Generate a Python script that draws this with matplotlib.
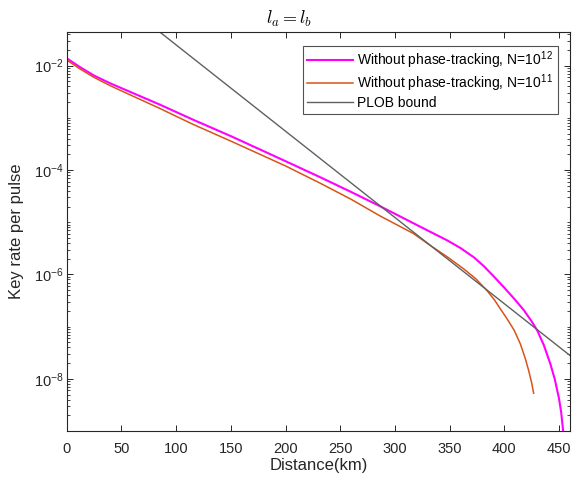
import numpy as np
import matplotlib
matplotlib.use("Agg")
import matplotlib.pyplot as plt
from matplotlib.ticker import LogLocator, LogFormatterSciNotation, NullFormatter, MultipleLocator

plt.rcParams['font.family'] = ['Liberation Sans', 'DejaVu Sans']
plt.rcParams['mathtext.fontset'] = 'cm'
plt.rcParams['axes.unicode_minus'] = False

# Data (distance in km, key rate per pulse)
dist_n12 = [0, 12, 25, 40, 55, 85, 115, 150, 200, 232, 260, 287, 317, 348, 360,
            372, 381, 390, 400, 410, 418, 425, 430, 436, 442, 446, 450, 452, 453.7, 454.5]
rate_n12 = [1.387e-2, 9.44e-3, 6.46e-3, 4.57e-3, 3.35e-3, 1.80e-3, 9.33e-4, 4.47e-4,
            1.48e-4, 7.24e-5, 3.80e-5, 2.00e-5, 9.55e-6, 4.47e-6, 3.20e-6,
            2.14e-6, 1.46e-6, 9.33e-7, 5.56e-7, 3.24e-7, 2.04e-7, 1.26e-7, 8.51e-8,
            4.47e-8, 1.95e-8, 1.00e-8, 4.17e-9, 2.24e-9, 1.02e-9, 5.0e-10]

dist_n11 = [0, 12, 25, 40, 55, 85, 115, 150, 200, 232, 260, 287, 317, 332, 348,
            363, 374, 384, 391, 396.3, 402.5, 409, 414.6, 419, 422.2, 424.8, 426.8]
rate_n11 = [1.285e-2, 8.71e-3, 5.96e-3, 4.12e-3, 2.95e-3, 1.52e-3, 7.59e-4, 3.59e-4,
            1.20e-4, 5.56e-5, 2.75e-5, 1.30e-5, 6.07e-6, 3.63e-6, 2.16e-6,
            1.27e-6, 8.22e-7, 4.95e-7, 3.24e-7, 2.20e-7, 1.41e-7, 8.51e-8, 4.68e-8,
            2.51e-8, 1.45e-8, 8.71e-9, 5.30e-9]

dist_plob = [80, 283.5, 460]
rate_plob = [5.36e-2, 2.31e-5, 2.80e-8]

labels = ['Without phase-tracking, N=10$^{\\mathregular{12}}$',
          'Without phase-tracking, N=10$^{\\mathregular{11}}$',
          'PLOB bound']
colors = ['#FF00FF', '#D95319', '#606060']

fig = plt.figure(figsize=(5.74, 4.79), dpi=100)
ax = fig.add_axes([0.1162, 0.1002, 0.993 - 0.1162, 0.9326 - 0.1002])

ax.semilogy(dist_n12, rate_n12, color=colors[0], lw=1.5, label=labels[0])
ax.semilogy(dist_n11, rate_n11, color=colors[1], lw=1.1, label=labels[1])
ax.semilogy(dist_plob, rate_plob, color=colors[2], lw=1.0, label=labels[2])

ax.set_xlim(0, 460)
ax.set_ylim(1e-9, 10 ** -1.36)

ax.xaxis.set_major_locator(MultipleLocator(50))
ax.yaxis.set_major_locator(LogLocator(base=100))
ax.yaxis.set_major_formatter(LogFormatterSciNotation(base=10))
ax.yaxis.set_minor_locator(LogLocator(base=10, subs=np.arange(1, 10), numticks=50))
ax.yaxis.set_minor_formatter(NullFormatter())

ax.tick_params(which='both', direction='in', top=True, right=True, colors='#262626',
               labelcolor='#262626', labelsize=10.5)
ax.tick_params(which='major', length=4, width=0.7)
ax.tick_params(which='minor', length=2.2, width=0.6)
ax.tick_params(axis='x', pad=8)
ax.tick_params(axis='y', pad=2)
for s in ax.spines.values():
    s.set_color('#262626')
    s.set_linewidth(0.8)

ax.set_xlabel('Distance(km)', fontsize=12, color='#262626', labelpad=1)
ax.set_ylabel('Key rate per pulse', fontsize=12, color='#262626', labelpad=7)
ax.set_title('$l_a = l_b$', fontsize=13, x=0.442, pad=6)

leg = ax.legend(loc='upper right', bbox_to_anchor=(0.9756, 0.9664), fontsize=10,
                frameon=True, fancybox=False, edgecolor='#262626', borderaxespad=0,
                handlelength=3.3, handletextpad=0.3, labelspacing=0.12,
                borderpad=0.3)
leg.get_frame().set_linewidth(0.8)

fig.savefig('out.png', dpi=100)
